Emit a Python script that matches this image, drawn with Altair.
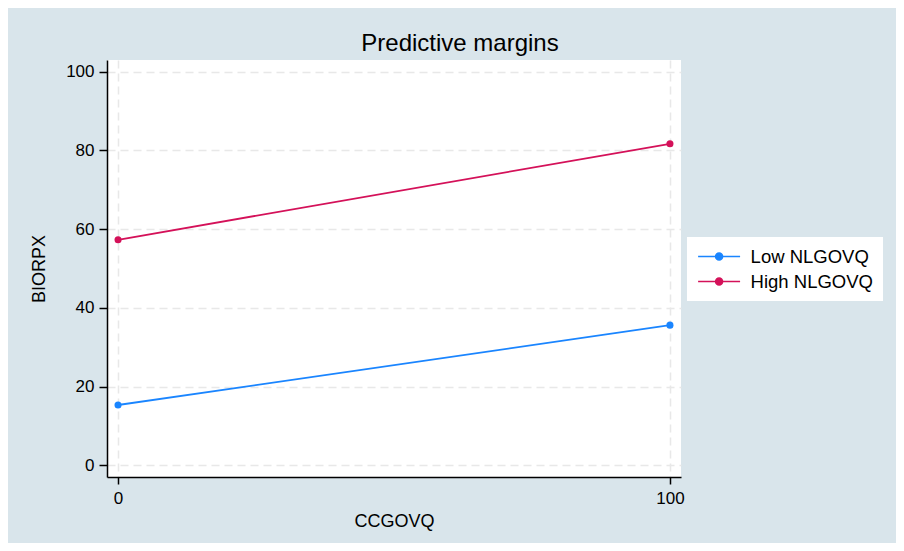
import altair as alt
import pandas as pd

groups = ["Low NLGOVQ", "High NLGOVQ"]
x_vals = [0, 100]
low_vals = [15.3, 35.6]
high_vals = [57.3, 81.7]
colors = ["#1a85ff", "#d41159"]

rows = []
for g, vals in zip(groups, [low_vals, high_vals]):
    for x, y in zip(x_vals, vals):
        rows.append({"CCGOVQ": x, "BIORPX": y, "group": g})
df = pd.DataFrame(rows)

FONT = "Liberation Sans"

color = alt.Color(
    "group:N",
    scale=alt.Scale(domain=groups, range=colors),
    legend=alt.Legend(
        title=None,
        orient="none",
        legendX=580,
        legendY=177,
        fillColor="white",
        padding=10,
        labelFontSize=18.5,
        labelFont=FONT,
        labelColor="black",
        labelOffset=22,
        rowPadding=6,
        symbolType="M-2.5,0H2.5M-0.42,0A0.42,0.42 0 1,1 0.42,0A0.42,0.42 0 1,1 -0.42,0Z",
        symbolSize=282,
        symbolOffset=12.6,
        symbolStrokeWidth=1.5,
    ),
)

x = alt.X(
    "CCGOVQ:Q",
    scale=alt.Scale(domain=[-2, 102], nice=False, zero=False),
    axis=alt.Axis(values=[0, 100], title="CCGOVQ", format="d"),
)
y = alt.Y(
    "BIORPX:Q",
    scale=alt.Scale(domain=[-3, 103], nice=False, zero=False),
    axis=alt.Axis(values=[0, 20, 40, 60, 80, 100], title="BIORPX", format="d"),
)

base = alt.Chart(df).encode(x=x, y=y, color=color)
lines = base.mark_line(strokeWidth=1.8)
points = base.mark_point(filled=True, size=50, opacity=1)

chart = (
    alt.layer(lines, points)
    .properties(
        width=574,
        height=417,
        padding={"left": 99, "top": 52, "right": 215, "bottom": 66},
        autosize=alt.AutoSizeParams(type="none"),
        background="#d9e5eb",
        title=alt.Title(
            "Predictive margins",
            fontSize=24,
            font=FONT,
            fontWeight="normal",
            color="black",
            anchor="middle",
            dx=66,
            offset=4,
        ),
    )
    .configure_view(fill="white", stroke=None)
    .configure_axis(
        labelFont=FONT,
        labelFontSize=17,
        labelColor="black",
        titleFont=FONT,
        titleFontSize=18,
        titleFontWeight="normal",
        titleColor="black",
        domainColor="black",
        domainWidth=1.5,
        tickColor="black",
        tickWidth=1.5,
        gridColor="#e8e8e8",
        gridWidth=1.5,
        gridDash=[8, 5],
    )
    .configure_axisY(tickSize=8, labelPadding=5, titlePadding=17)
    .configure_axisX(tickSize=7, labelPadding=6, titlePadding=6)
)

chart.save("out.html", embed_options={"renderer": "svg", "actions": False})
